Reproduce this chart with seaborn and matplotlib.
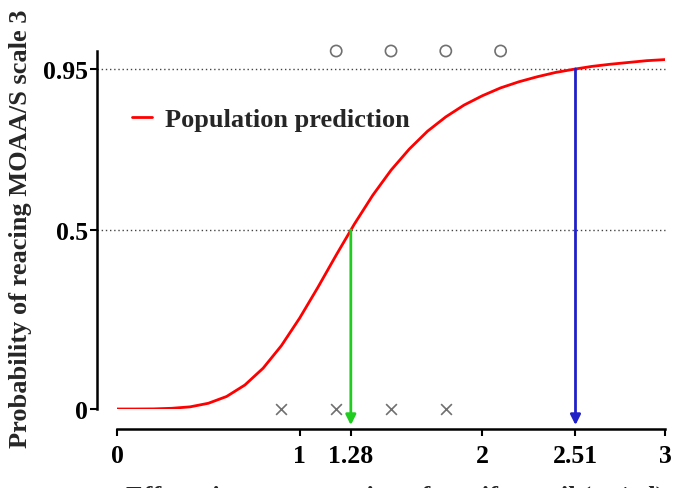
import numpy as np
import pandas as pd
import seaborn as sns
import matplotlib.pyplot as plt

# population prediction curve
conc = [0.0, 0.1, 0.2, 0.3, 0.4, 0.5, 0.6, 0.7, 0.8, 0.9, 1.0,
        1.1, 1.2, 1.3, 1.4, 1.5, 1.6, 1.7, 1.8, 1.9, 2.0,
        2.1, 2.2, 2.3, 2.4, 2.5, 2.6, 2.7, 2.8, 2.9, 3.0]
prob = [0.0, 0.0, 0.0003, 0.002, 0.006, 0.016, 0.035, 0.067, 0.114, 0.177, 0.254,
        0.340, 0.430, 0.517, 0.597, 0.667, 0.726, 0.776, 0.816, 0.849, 0.875,
        0.897, 0.914, 0.928, 0.940, 0.949, 0.957, 0.963, 0.968, 0.973, 0.976]

# observed responses
no_resp_x = [0.9, 1.2, 1.5, 1.8]
no_resp_y = [0, 0, 0, 0]
resp_x = [1.2, 1.5, 1.8, 2.1]
resp_y = [1, 1, 1, 1]

# EC50 / EC95
levels = [0.5, 0.95]
ec_values = [1.28, 2.51]
arrow_colors = ["#1fcc1f", "#2020c8"]

xticks = [0, 1, 1.28, 2, 2.51, 3]
xticklabels = ["0", "1", "1.28", "2", "2.51", "3"]
yticks = [0, 0.5, 0.95]
yticklabels = ["0", "0.5", "0.95"]

sns.set_style("ticks")
plt.rcParams["font.family"] = ["Liberation Serif", "DejaVu Serif"]
plt.rcParams["font.weight"] = "bold"

fig = plt.figure(figsize=(6.73, 4.89), dpi=100)
ax = fig.add_axes([117 / 673, 1 - 410 / 489, 548 / 673, 358 / 489])

curve = pd.DataFrame({"conc": conc, "prob": prob})
sns.lineplot(data=curve, x="conc", y="prob", color="red", lw=2,
             label="Population prediction", ax=ax)

sns.scatterplot(x=no_resp_x, y=no_resp_y, marker="x", color="#707070",
                s=60, linewidth=1.2, ax=ax, clip_on=False, legend=False)
sns.scatterplot(x=resp_x, y=resp_y, marker="o", facecolor="none",
                edgecolor="#707070", s=65, linewidth=1.2, ax=ax,
                clip_on=False, legend=False)

for lvl in levels:
    ax.axhline(lvl, xmin=-20 / 548, xmax=1, color="#444444", ls=(0, (1, 2)),
               lw=1, clip_on=False, zorder=1)

for xv, lvl, c in zip(ec_values, levels, arrow_colors):
    ax.annotate("", xy=(xv, -0.045), xytext=(xv, lvl),
                arrowprops=dict(arrowstyle="-|>", color=c, lw=2,
                                mutation_scale=15, shrinkA=0, shrinkB=0),
                annotation_clip=False)

ax.set_xlim(0, 3)
ax.set_ylim(0, 1.0)
ax.set_xticks(xticks)
ax.set_xticklabels(xticklabels)
ax.set_yticks(yticks)
ax.set_yticklabels(yticklabels)
ax.tick_params(axis="both", labelsize=18.5, width=1.5, length=5, colors="black")
ax.tick_params(axis="x", pad=6)
ax.tick_params(axis="y", pad=1.5)

sns.despine(ax=ax, offset=14.4)
for side in ["left", "bottom"]:
    ax.spines[side].set_linewidth(1.8)
    ax.spines[side].set_color("black")

ax.set_ylabel("Probability of reacing MOAA/S scale 3", fontsize=19,
              fontweight="bold")
ax.yaxis.set_label_coords(-0.155, 0.505)
ax.set_xlabel("Effect-site concentration of remifentanil (ng/ml)", fontsize=19,
              fontweight="bold")
ax.xaxis.set_label_coords(0.507, -0.21)

leg = ax.legend(loc="upper left", bbox_to_anchor=(0.027, 0.841), frameon=False,
                fontsize=19, handlelength=0.75, handletextpad=0.5,
                borderpad=0, borderaxespad=0)
for t in leg.get_texts():
    t.set_fontweight("bold")

fig.savefig("out.png", dpi=100)
